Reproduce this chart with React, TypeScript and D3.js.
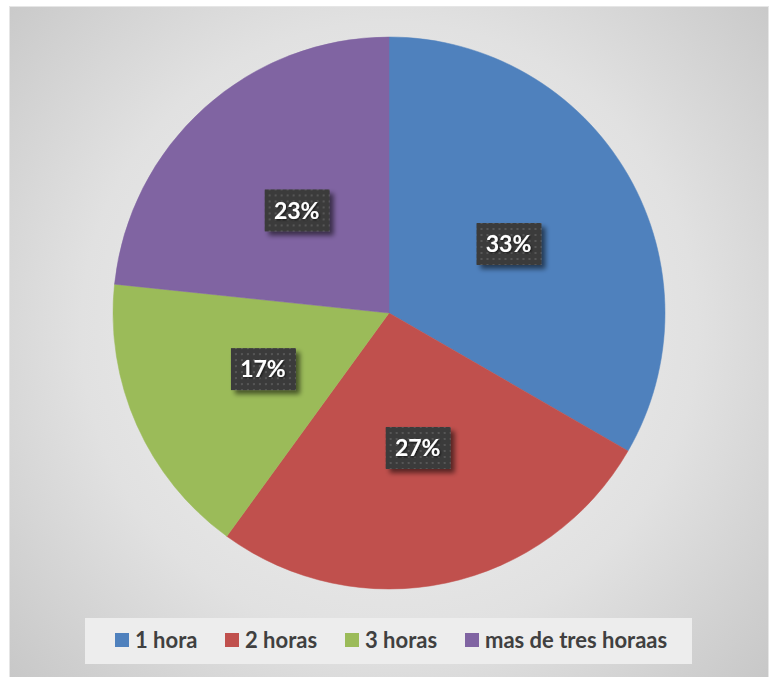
import React from "react";
import * as d3 from "d3";

const categories = ["1 hora", "2 horas", "3 horas", "mas de tres horaas"];
const counts = [10, 8, 5, 7];
const colors = ["#4f81bd", "#c0504d", "#9bbb59", "#8064a2"];

const W = 769;
const H = 677;
const cx = 389;
const cy = 313;
const R = 276;

export default function App() {
  const total = d3.sum(counts);
  const pie = d3.pie<number>().sort(null).value((d) => d)(counts);
  const arc = d3.arc<d3.PieArcDatum<number>>().innerRadius(0).outerRadius(R);
  const fmt = (v: number) => `${Math.round((v / total) * 100)}%`;

  const legendX = [115, 225, 345, 465];

  return (
    <svg
      width={W}
      height={H}
      style={{ position: "absolute", left: 0, top: 0, display: "block" }}
      fontFamily="Lato, 'Open Sans', sans-serif"
    >
      <defs>
        <radialGradient id="bg" cx={cx} cy={330} r={560} gradientUnits="userSpaceOnUse">
          <stop offset="0" stopColor="#f3f3f3" />
          <stop offset="0.55" stopColor="#e1e1e1" />
          <stop offset="1" stopColor="#c2c2c2" />
        </radialGradient>
        <pattern id="dots" width="6" height="6" patternUnits="userSpaceOnUse">
          <rect width="6" height="6" fill="#3b3b3b" />
          <rect x="2" y="2" width="2" height="2" fill="#575757" />
        </pattern>
        <filter id="shadow" x="-30%" y="-30%" width="160%" height="160%">
          <feGaussianBlur in="SourceAlpha" stdDeviation="2.5" />
          <feOffset dx="4" dy="4" result="off" />
          <feComponentTransfer>
            <feFuncA type="linear" slope="0.55" />
          </feComponentTransfer>
          <feMerge>
            <feMergeNode />
            <feMergeNode in="SourceGraphic" />
          </feMerge>
        </filter>
        <filter id="tshadow" x="-30%" y="-30%" width="160%" height="160%">
          <feGaussianBlur in="SourceAlpha" stdDeviation="1" />
          <feOffset dx="1" dy="1" />
          <feComponentTransfer>
            <feFuncA type="linear" slope="0.7" />
          </feComponentTransfer>
          <feMerge>
            <feMergeNode />
            <feMergeNode in="SourceGraphic" />
          </feMerge>
        </filter>
      </defs>
      <rect x={0} y={0} width={W} height={H} fill="#ffffff" />
      <rect x={9.5} y={6.5} width={W - 10} height={H - 6} fill="url(#bg)" stroke="#e6e6e6" strokeWidth={1} />

      <g transform={`translate(${cx},${cy})`}>
        {pie.map((p, i) => (
          <path key={categories[i]} d={arc(p) || ""} fill={colors[i]} stroke={colors[i]} strokeWidth={0.5} />
        ))}
        {pie.map((p, i) => {
          const [x, y] = arc.centroid(p);
          return (
            <g key={"l" + i} transform={`translate(${x},${y})`}>
              <rect x={-32} y={-21} width={65} height={42} fill="url(#dots)" filter="url(#shadow)" />
              <text
                textAnchor="middle"
                dy="0.36em"
                fill="#ffffff"
                fontSize={23}
                fontWeight={700}
                filter="url(#tshadow)"
              >
                {fmt(counts[i])}
              </text>
            </g>
          );
        })}
      </g>

      <rect x={85} y={618} width={607} height={46} fill="#ededed" />
      {categories.map((c, i) => (
        <g key={"lg" + i} transform={`translate(${legendX[i]},640)`}>
          <rect x={0} y={-7} width={14} height={14} fill={colors[i]} />
          <text x={20} dy="0.36em" fontSize={22} fontWeight={700} fill="#404040">
            {c}
          </text>
        </g>
      ))}
    </svg>
  );
}
